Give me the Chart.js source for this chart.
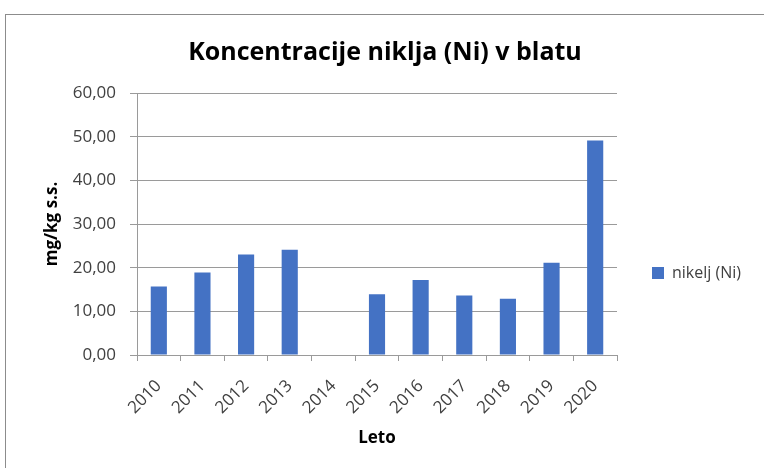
<!DOCTYPE html>
<html>
<head>
<meta charset="utf-8">
<script src="https://cdn.jsdelivr.net/npm/chart.js@4.4.1/dist/chart.umd.min.js"></script>
<style>
	html, body { margin: 0; padding: 0; background: #fff; }
	#wrap { position: relative; width: 764px; height: 468px; overflow: hidden; }
	#frame { position: absolute; left: 5px; top: 14px; width: 800px; height: 500px; border: 1px solid #8c8c8c; box-sizing: border-box; pointer-events: none; }
	canvas { position: absolute; left: 0; top: 0; }
</style>
</head>
<body>
<div id="wrap">
	<canvas id="chart" width="764" height="468"></canvas>
	<div id="frame"></div>
</div>
<script>
const years = ['2010', '2011', '2012', '2013', '2014', '2015', '2016', '2017', '2018', '2019', '2020'];
const nickel = [15.7, 18.9, 23.0, 24.1, null, 13.9, 17.2, 13.6, 12.9, 21.1, 49.1];
const yTicks = [0, 10, 20, 30, 40, 50, 60];

const textColor = '#404040';
const gridColor = '#9a9a9a';

// Excel centres the title on the frame and drops the legend a bit lower
const boxNudge = {
	id: 'boxNudge',
	afterLayout(chart) {
		const lg = chart.legend;
		lg.left += 25; lg.right += 25;
		lg.top += 39; lg.bottom += 39;
		const t = chart.titleBlock;
		t.left += 22; t.right += 22;
	}
};

const ctx = document.getElementById('chart');

const chart = new Chart(ctx, {
	type: 'bar',
	data: {
		labels: years,
		datasets: [{
			label: 'nikelj (Ni)',
			data: nickel,
			backgroundColor: '#4472C4',
			borderWidth: 0,
			categoryPercentage: 1,
			barPercentage: 0.37
		}]
	},
	options: {
		responsive: false,
		animation: false,
		layout: { padding: { left: 0, right: 38, top: 0, bottom: 0 } },
		plugins: {
			title: {
				display: true,
				text: 'Koncentracije niklja (Ni) v blatu',
				color: '#000',
				font: { family: 'Open Sans', size: 25, weight: 'bold' },
				padding: { top: 38, bottom: 25 }
			},
			legend: {
				position: 'right',
				labels: {
					boxWidth: 12,
					boxHeight: 12,
					padding: 10,
					color: textColor,
					font: { family: 'Open Sans', size: 16 }
				}
			},
			tooltip: { enabled: false }
		},
		scales: {
			x: {
				afterFit: s => { s.height = 113; },
				grid: {
					offset: true,
					drawOnChartArea: false,
					color: gridColor,
					tickLength: 6
				},
				border: { color: gridColor },
				ticks: {
					color: textColor,
					font: { family: 'Open Sans', size: 17 },
					minRotation: 45,
					maxRotation: 45,
					padding: 15
				},
				title: {
					display: true,
					text: 'Leto',
					color: '#000',
					font: { family: 'Open Sans', size: 17, weight: 'bold' },
					padding: { top: 4, bottom: 20 }
				}
			},
			y: {
				min: 0,
				max: 60,
				afterFit: s => { s.width = 137; },
				afterBuildTicks: s => { s.ticks = yTicks.map(v => ({ value: v })); },
				grid: {
					color: gridColor,
					tickLength: 7
				},
				border: { color: gridColor },
				ticks: {
					color: textColor,
					font: { family: 'Open Sans', size: 17 },
					padding: 14,
					callback: v => v.toFixed(2).replace('.', ',')
				},
				title: {
					display: true,
					text: 'mg/kg s.s.',
					color: '#000',
					font: { family: 'Open Sans', size: 17, weight: 'bold' },
					padding: { top: 42, bottom: 0 }
				}
			}
		}
	},
	plugins: [boxNudge]
});
</script>
</body>
</html>
